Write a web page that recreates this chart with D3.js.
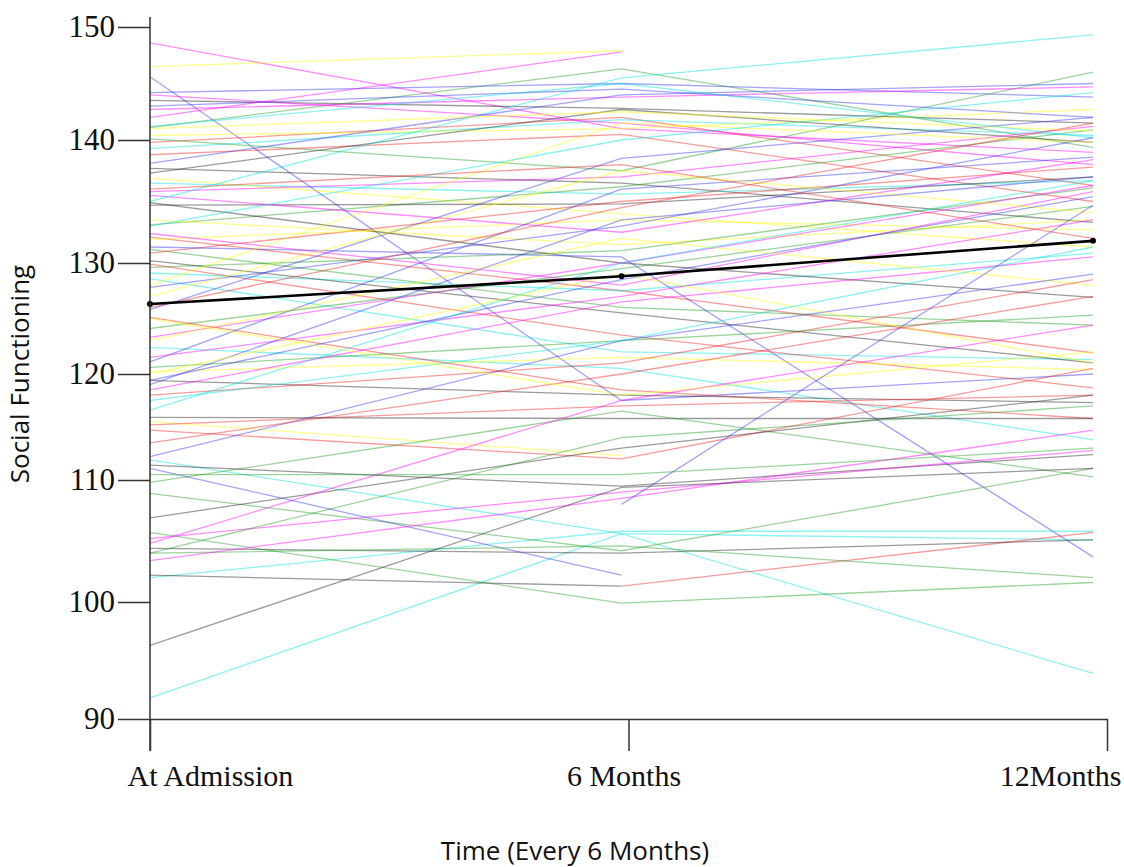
<!DOCTYPE html>
<html>
<head>
<meta charset="utf-8">
<script src="https://cdn.jsdelivr.net/npm/d3@7"></script>
<style>
  body { margin: 0; background: #fff; }
  .tick text { font-family: "Liberation Serif", "Times New Roman", serif; fill: #111; }
  .axis-title { font-family: "Open Sans", "Noto Sans", sans-serif; fill: #111; }
</style>
</head>
<body>
<div id="wrapper"></div>
<script>
// time points
const times = ['At Admission', '6 Months', '12Months'];

// one value per subject and time point (null = missing)
const admission = [
  148.6, 146.5, 145.6, 143.5, 141.1, 139.8, 139.3,
  144.0, 140.4, 144.2, 137.7, 140.1, 138.8, 136.5,
  142.7, 136.9, 143.0, 137.3, 133.1, 132.1, 129.1,
  142.0, 133.5, 138.1, 134.9, 131.1, 130.8, 128.6,
  135.8, 131.9, 131.3, 134.7, 129.6, 129.9, 122.4,
  135.5, 120.2, 127.8, 130.2, 124.1, 125.1, 111.9,
  132.4, 115.5, 125.8, 119.4, 120.6, 115.2, 91.8,
  123.3, 128.0, 121.1, 115.9, 109.8, 114.7, 102.0,
  121.5, 127.0, 119.4, 111.4, 108.9, null, 135.0,
  118.5, 123.0, 119.0, 106.9, 105.7, 126.0, 133.0,
  105.2, 120.0, 112.2, 104.4, 104.0, 118.0, 116.6,
  104.8, 141.0, 111.1, 102.2, 104.0, 113.5, 117.5,
  103.4, 125.0, null, 96.3, 110.5, 136.0, 141.2
];
const sixMonths = [
  141.0, 147.9, 117.5, 142.8, 146.3, 142.0, 141.8,
  141.5, 141.0, 145.0, 136.5, 137.5, 140.5, 135.6,
  143.8, 134.0, 144.5, 142.7, 136.2, 127.5, 127.5,
  147.8, 131.5, 144.0, 130.0, 126.0, 135.0, 122.0,
  137.0, 133.5, 130.5, 134.8, 131.0, 123.5, 120.5,
  132.5, 121.5, 133.0, 125.5, 129.5, 118.5, 105.6,
  128.0, 112.3, 138.5, 118.0, 123.0, 117.0, 105.6,
  130.0, 141.5, 136.0, 115.8, 116.5, 112.0, 105.8,
  127.0, 137.5, 128.5, 109.5, 104.2, 101.3, 145.5,
  126.5, 132.0, 133.5, 113.0, 99.9, 134.5, 140.0,
  109.0, 129.0, 123.0, 104.0, 114.0, 121.0, 130.0,
  117.5, 142.5, 102.2, 101.3, 104.6, 120.0, 123.0,
  108.5, 118.0, 108.0, 109.4, 110.5, 138.0, 145.0
];
const twelveMonths = [
  139.0, null, 120.0, 141.5, 139.4, 136.3, 140.4,
  138.0, 142.7, 143.8, 133.3, 146.0, 135.0, 136.7,
  144.7, 131.3, 142.0, 139.8, 140.9, 121.9, 130.8,
  null, 133.5, 145.0, 126.9, 124.4, 137.8, 121.3,
  141.2, 132.7, 103.7, 137.0, 136.1, 118.7, 113.8,
  138.4, 120.4, 140.2, 121.0, 134.6, 115.8, 105.1,
  135.8, null, 142.0, 117.3, 125.3, 118.0, 93.9,
  136.3, 139.8, 138.6, 115.8, 110.3, 120.5, 105.8,
  133.5, 134.1, 135.4, 112.4, 111.1, 105.7, 149.3,
  130.5, 128.0, 137.0, 118.0, 101.6, 141.5, 144.2,
  112.8, 121.0, 129.0, 105.1, 117.0, 128.5, 136.7,
  124.4, 140.8, null, null, 102.0, 127.0, 131.3,
  114.7, 122.0, 134.7, 111.1, 113.0, 132.0, 140.2
];

// group mean at each time point
const meanValues = [126.3, 128.8, 131.8];

const yTicks = [90, 100, 110, 120, 130, 140, 150];

const palette = ['#ff00ff', '#ffff00', '#3333ee', '#222222', '#22a022', '#ee2222', '#00e0e0'];

const dimensions = { width: 1124, height: 867 };

function drawChart() {
  const subjects = admission.map((a, i) => [a, sixMonths[i], twelveMonths[i]]);

  // picture's y ticks are not evenly spaced; follow them
  const y = d3.scaleLinear()
    .domain(yTicks)
    .range([719, 602, 480, 374, 263, 140, 27]);

  const xAxisScale = d3.scalePoint().domain(times).range([150, 1107]);
  const xLine = d3.scalePoint().domain(times).range([150, 1093]);

  const svg = d3.select('#wrapper').append('svg')
    .attr('width', dimensions.width)
    .attr('height', dimensions.height);

  const line = d3.line()
    .defined((d) => d != null)
    .x((d, i) => xLine(times[i]))
    .y((d) => y(d));

  // subject lines
  svg.append('g')
    .attr('class', 'subjects')
    .selectAll('path')
    .data(subjects)
    .join('path')
    .attr('d', line)
    .attr('fill', 'none')
    .attr('stroke', (d, i) => palette[i % palette.length])
    .attr('stroke-opacity', 0.45)
    .attr('stroke-width', 1.3);

  // mean line
  svg.append('path')
    .datum(meanValues)
    .attr('d', line)
    .attr('fill', 'none')
    .attr('stroke', '#000')
    .attr('stroke-width', 2.6);

  svg.append('g')
    .selectAll('circle')
    .data(meanValues)
    .join('circle')
    .attr('cx', (d, i) => xLine(times[i]))
    .attr('cy', (d) => y(d))
    .attr('r', 3)
    .attr('fill', '#000');

  // y axis
  const yAxis = svg.append('g')
    .attr('class', 'y-axis')
    .attr('transform', 'translate(150,0)')
    .call(d3.axisLeft(y).tickValues(yTicks).tickSize(32).tickPadding(3).tickSizeOuter(0));
  yAxis.select('.domain').remove();
  yAxis.selectAll('.tick line').attr('stroke', '#333').attr('stroke-width', 1.5);
  yAxis.selectAll('.tick text').attr('font-size', 31);

  // x axis
  const xAxis = svg.append('g')
    .attr('class', 'x-axis')
    .attr('transform', `translate(0,${y(90)})`)
    .call(d3.axisBottom(xAxisScale).tickSize(32).tickPadding(14).tickSizeOuter(0));
  xAxis.select('.domain').attr('stroke', '#333').attr('stroke-width', 1.5);
  xAxis.selectAll('.tick line').attr('stroke', '#333').attr('stroke-width', 1.5);
  // end labels are kept inside the plot width
  xAxis.selectAll('.tick text')
    .attr('font-size', 30)
    .attr('text-anchor', (d, i) => (i === 0 ? 'start' : i === times.length - 1 ? 'end' : 'middle'))
    .attr('dx', (d, i) => (i === 0 ? -23 : i === times.length - 1 ? 14 : -5));

  // y spine runs a bit above the top tick
  svg.append('line')
    .attr('x1', 150).attr('x2', 150)
    .attr('y1', y(150) - 10).attr('y2', y(90) + 32)
    .attr('stroke', '#333')
    .attr('stroke-width', 1.5);

  svg.append('text')
    .attr('class', 'axis-title')
    .attr('transform', 'translate(29,374) rotate(-90)')
    .attr('text-anchor', 'middle')
    .attr('font-size', 26)
    .text('Social Functioning');

  svg.append('text')
    .attr('class', 'axis-title')
    .attr('x', 575)
    .attr('y', 860)
    .attr('text-anchor', 'middle')
    .attr('font-size', 26)
    .text('Time (Every 6 Months)');
}
drawChart();
</script>
</body>
</html>
